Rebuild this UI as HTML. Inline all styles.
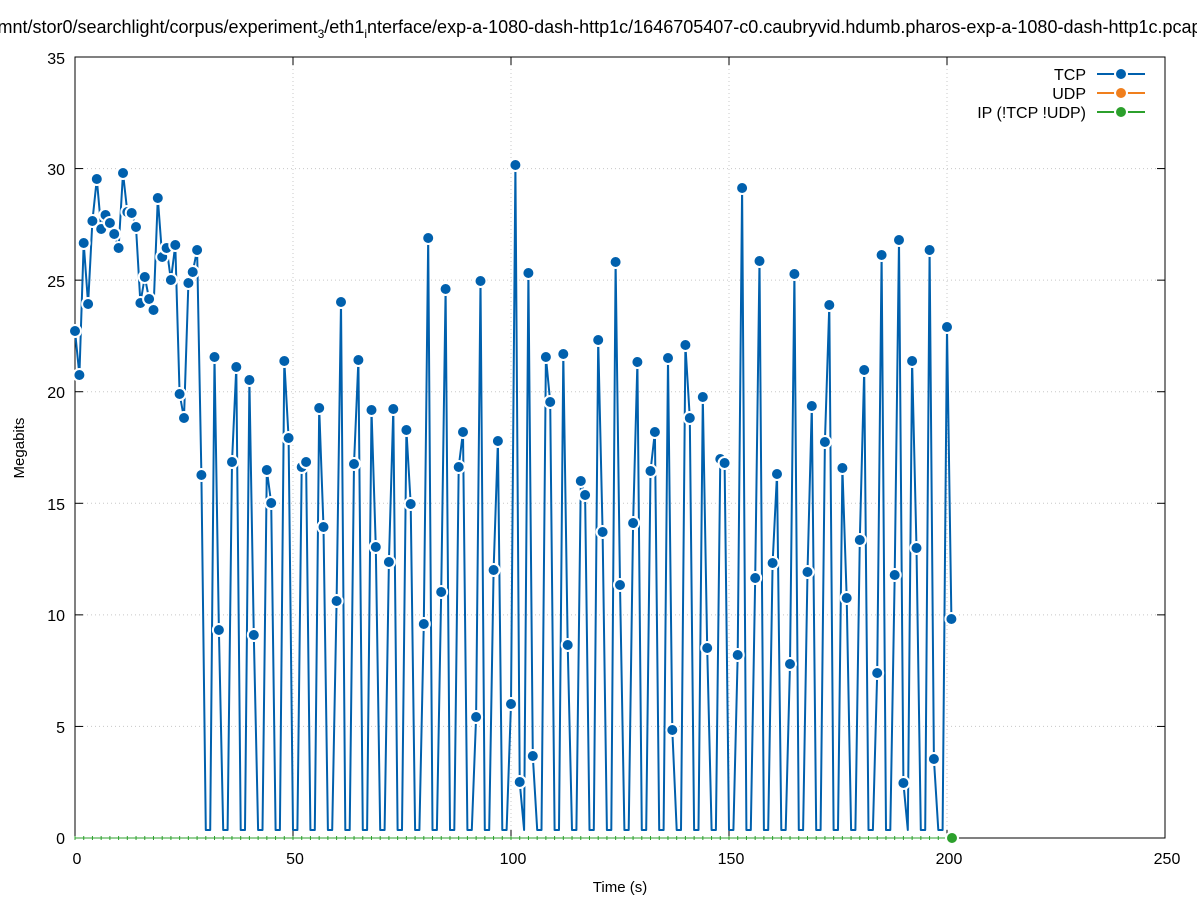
<!DOCTYPE html>
<html><head><meta charset="utf-8"><style>
body{margin:0;background:#fff}
svg{font-family:"Liberation Sans","DejaVu Sans",sans-serif}
</style></head><body>
<svg id="s" width="1197" height="900" xmlns="http://www.w3.org/2000/svg">
<rect width="1197" height="900" fill="#fff"/>
<g id="grid" stroke="#c8c8c8" stroke-dasharray="1,3" stroke-width="1"></g>
<g id="ticks" stroke="#000" stroke-width="1"></g>
<g font-size="16" fill="#000" text-anchor="end">
<text x="65" y="844">0</text><text x="65" y="733">5</text><text x="65" y="621">10</text><text x="65" y="510">15</text><text x="65" y="398">20</text><text x="65" y="287">25</text><text x="65" y="175">30</text><text x="65" y="64">35</text>
</g>
<g font-size="16" fill="#000" text-anchor="middle">
<text x="77" y="864">0</text><text x="295" y="864">50</text><text x="513" y="864">100</text><text x="731" y="864">150</text><text x="949" y="864">200</text><text x="1167" y="864">250</text>
<text x="620" y="892" font-size="15">Time (s)</text>
<text x="597" y="33" font-size="18">/mnt/stor0/searchlight/corpus/experiment<tspan font-size="12" dy="5">3</tspan><tspan dy="-5">/eth1</tspan><tspan font-size="12" dy="5">i</tspan><tspan dy="-5">nterface/exp-a-1080-dash-http1c/1646705407-c0.caubryvid.hdumb.pharos-exp-a-1080-dash-http1c.pcap</tspan></text>
<text transform="translate(24,448) rotate(-90)" font-size="15">Megabits</text>
</g>
<rect x="75" y="57" width="1090" height="781" fill="none" stroke="#000" stroke-width="1"/>
<g id="green"></g>
<g id="series"></g>
<g font-size="16" text-anchor="end" fill="#000">
<text x="1086" y="80">TCP</text><text x="1086" y="99">UDP</text><text x="1086" y="118">IP (!TCP  !UDP)</text>
</g>
<g stroke-width="2">
<line x1="1097" y1="74" x2="1145" y2="74" stroke="#0060ad"/><circle cx="1121" cy="74" r="6" fill="#0060ad" stroke="#fff" stroke-width="2"/>
<line x1="1097" y1="93" x2="1145" y2="93" stroke="#f07f1d"/><circle cx="1121" cy="93" r="6" fill="#f07f1d" stroke="#fff" stroke-width="2"/>
<line x1="1097" y1="112" x2="1145" y2="112" stroke="#2ca02c"/><circle cx="1121" cy="112" r="6" fill="#2ca02c" stroke="#fff" stroke-width="2"/>
</g>
</svg>
<script>
var NS="http://www.w3.org/2000/svg";
function el(p,n,a){var e=document.createElementNS(NS,n);for(var k in a)e.setAttribute(k,a[k]);p.appendChild(e);return e;}
var g=document.getElementById("grid"),tk=document.getElementById("ticks");
for(var i=0;i<=7;i++){var y=838-i*111.57;if(i>0&&i<7)el(g,"line",{x1:75,y1:y,x2:1165,y2:y});el(tk,"line",{x1:75,y1:y,x2:83,y2:y});el(tk,"line",{x1:1165,y1:y,x2:1157,y2:y});}
for(var i=0;i<=5;i++){var x=75+i*218;if(i>0&&i<5)el(g,"line",{x1:x,y1:57,x2:x,y2:838});el(tk,"line",{x1:x,y1:838,x2:x,y2:830});el(tk,"line",{x1:x,y1:57,x2:x,y2:65});}
var pts={0:331,1:375,2:243,3:304,4:221,5:179,6:229,7:215,8:223,9:234,10:248,11:173,12:212,13:213,14:227,15:303,16:277,17:299,18:310,19:198,20:257,21:248,22:280,23:245,24:394,25:418,26:283,27:272,28:250,29:475,
32:357,33:630,36:462,37:367,40:380,41:635,44:470,45:503,48:361,49:438,52:467,53:462,56:408,57:527,60:601,61:302,64:464,65:360,68:410,69:547,72:562,73:409,76:430,77:504,80:624,81:238,84:592,85:289,88:467,89:432,92:717,93:281,96:570,97:441,100:704,101:165,102:782,104:273,105:756,108:357,109:402,112:354,113:645,116:481,117:495,120:340,121:532,124:262,125:585,128:523,129:362,132:471,133:432,136:358,137:730,140:345,141:418,144:397,145:648,148:459,149:463,152:655,153:188,156:578,157:261,160:563,161:474,164:664,165:274,168:572,169:406,172:442,173:305,176:468,177:598,180:540,181:370,184:673,185:255,188:575,189:240,190:783,192:361,193:548,196:250,197:759,200:327,201:619};
var arr=[];for(var t=0;t<=201;t++){var z=!(t in pts);arr.push([75+4.36*t,z?830:pts[t],z]);}
var s=document.getElementById("series");
el(s,"polyline",{points:arr.map(function(p){return p[0].toFixed(1)+","+p[1];}).join(" "),fill:"none",stroke:"#0060ad","stroke-width":2,"stroke-linejoin":"round"});
arr.forEach(function(p){if(!p[2])el(s,"circle",{cx:p[0].toFixed(1),cy:p[1],r:6,fill:"#0060ad",stroke:"#fff","stroke-width":2});});
var gr=document.getElementById("green");
for(var t=0;t<=201;t+=2){var x=75+4.36*t;el(gr,"line",{x1:x,y1:836,x2:x,y2:840,stroke:"#2ca02c","stroke-width":1});}
el(gr,"line",{x1:75,y1:838,x2:952,y2:838,stroke:"#2ca02c","stroke-width":1});
el(s,"circle",{cx:952,cy:838,r:6,fill:"#2ca02c",stroke:"#fff","stroke-width":2});
</script>
</body></html>
